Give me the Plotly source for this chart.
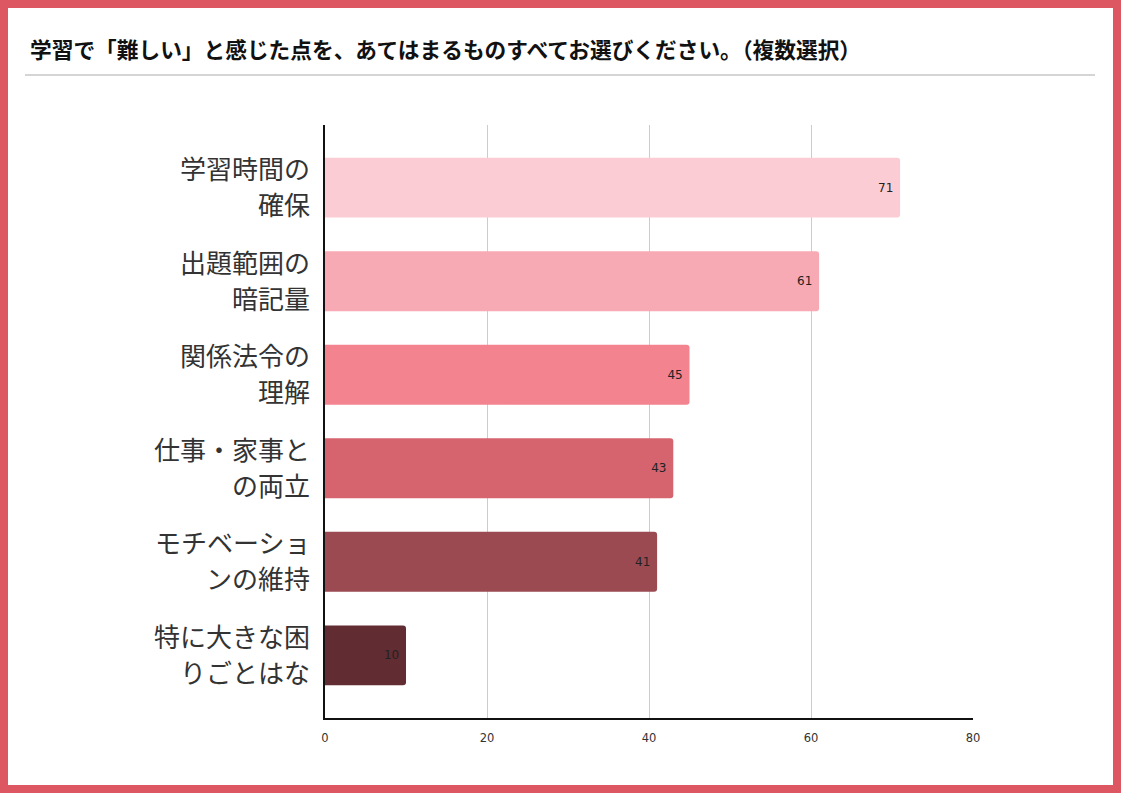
import plotly.graph_objects as go

# data
categories = ["学習時間の<br>確保", "出題範囲の<br>暗記量", "関係法令の<br>理解",
              "仕事・家事と<br>の両立", "モチベーショ<br>ンの維持", "特に大きな困<br>りごとはな"]
counts = [71, 61, 45, 43, 41, 10]
bar_colors = ["#fbccd3", "#f7a9b4", "#f2838f", "#d6646f", "#9b4a52", "#612c32"]
x_ticks = [0, 20, 40, 60, 80]

W, H = 1121, 793
L, R, T, B = 325, 148, 125, 75  # plot area 325..973 x 125..718
font = "Noto Sans CJK JP"


def px_x(x):
    return (x - L) / (W - L - R)


def px_y(y):
    return (H - B - y) / (H - T - B)


fig = go.Figure(go.Bar(
    y=list(range(len(categories))), x=counts, orientation="h",
    marker=dict(color=bar_colors, line=dict(width=0)),
    text=[f"{c}\u00a0" for c in counts], textposition="inside", insidetextanchor="end",
    insidetextfont=dict(size=12, color="#222", family="DejaVu Sans"),
    textangle=0,
))

# category labels: each line as its own text so the line spacing matches
for i, cat in enumerate(categories):
    lines = cat.split("<br>")
    for j, line in enumerate(lines):
        fig.add_annotation(
            x=px_x(312), xref="paper", xanchor="right",
            y=i, yref="y", yanchor="middle",
            yshift=(len(lines) - 1) * 18 - j * 36 + 2,
            text=line, showarrow=False,
            font=dict(size=26, color="#333", family=font))

fig.update_layout(
    width=W, height=H,
    margin=dict(l=L, r=R, t=T, b=B, pad=0),
    paper_bgcolor="white", plot_bgcolor="white",
    bargap=0.36, barcornerradius=3,
    showlegend=False,
    font=dict(family=font, color="#333"),
    title=dict(text="<b>学習で「難しい」と感じた点を、あてはまるものすべてお選びください。（複数選択）</b>",
               font=dict(size=21.7, color="#111", family=font),
               x=30 / W, xref="container", xanchor="left",
               y=1 - 50 / H, yref="container", yanchor="middle"),
    xaxis=dict(range=[0, 80], tickvals=x_ticks, showgrid=True, gridcolor="#cccccc",
               gridwidth=1, zeroline=False, showline=True, linecolor="#111", linewidth=1.5,
               ticks="", tickfont=dict(size=11.5, color="#333", family="DejaVu Sans"),
               ticklabelstandoff=8),
    yaxis=dict(tickvals=list(range(len(categories))), showticklabels=False,
               range=[5.67, -0.67], showgrid=False, zeroline=False,
               showline=True, linecolor="#111", linewidth=1.5, ticks=""),
    shapes=[
        # separator under the title
        dict(type="line", xref="paper", yref="paper",
             x0=px_x(25), x1=px_x(1095), y0=px_y(75), y1=px_y(75),
             line=dict(color="#aaaaaa", width=1)),
        # red frame round the whole picture
        dict(type="rect", xref="paper", yref="paper",
             x0=px_x(4), x1=px_x(W - 4), y0=px_y(H - 4), y1=px_y(4),
             line=dict(color="#dc5761", width=8), fillcolor="rgba(0,0,0,0)"),
    ],
)

fig.write_html("out.html", config={"displayModeBar": False},
               post_script="document.body.style.margin='0';")
